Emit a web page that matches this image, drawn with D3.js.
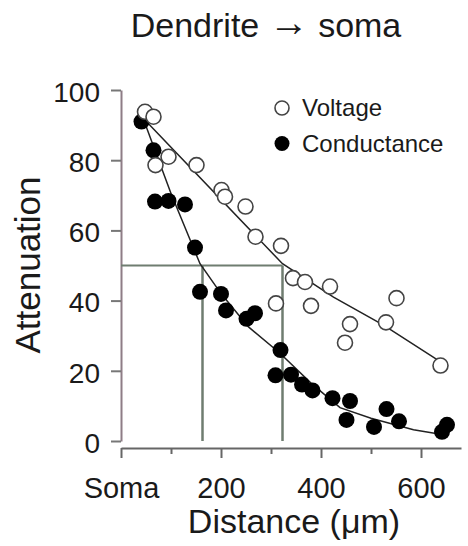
<!DOCTYPE html>
<html>
<head>
<meta charset="utf-8">
<script src="https://cdn.jsdelivr.net/npm/d3@7"></script>
<style>
  body { margin: 0; background: #fff; }
  text { font-family: "Liberation Sans", Arial, sans-serif; fill: #1a1a1a; }
</style>
</head>
<body>
<svg id="chart" width="468" height="546"></svg>
<script>
// data: distance from soma (um), attenuation (%)
var voltageDist = [48, 65, 95, 69, 151, 201, 208, 249, 269, 320, 344, 368, 310, 380, 418, 458, 448, 530, 551, 639];
var voltageAtt  = [93.8, 92.4, 81, 78.6, 78.6, 71.5, 69.6, 66.8, 58.2, 55.6, 46.4, 45.3, 39.2, 38.5, 44, 33.3, 28, 33.8, 40.7, 21.5];

var condDist = [41, 65, 68, 95, 128, 148, 158, 200, 210, 251, 268, 319, 309, 340, 362, 383, 423, 458, 451, 506, 531, 556, 642, 652];
var condAtt  = [91, 82.8, 68.2, 68.4, 67.4, 55.1, 42.5, 41.9, 37.2, 34.8, 36.4, 25.9, 18.7, 18.9, 16.1, 14.4, 12.2, 11.4, 6, 4, 9.1, 5.6, 2.6, 4.6];

// fitted curves as drawn
var voltageFitDist = [44, 323, 425, 525, 640];
var voltageFitAtt  = [92, 50.5, 41, 33, 22.5];
var condFitDist = [44, 100, 158, 200, 255, 318, 380, 438, 500, 585, 645];
var condFitAtt  = [92, 70.5, 50.5, 42, 32.5, 25, 16.5, 9.5, 6.5, 3.2, 1.8];

// 50% attenuation markers
var halfLevel = 50;
var halfDist = [163, 323];

var xMajor = [0, 200, 400, 600];
var xMinor = [100, 300, 500];
var yTicks = [0, 20, 40, 60, 80, 100];
var seriesNames = ["Voltage", "Conductance"];

var svg = d3.select("#chart");

var x = d3.scaleLinear().domain([0, 680]).range([121, 461]);
var y = d3.scaleLinear().domain([0, 100]).range([441, 90]);

function zip(a, b) {
    return a.map(function (d, i) { return [d, b[i]]; });
}

// title
var title = svg.append("text")
    .attr("x", 266)
    .attr("y", 37)
    .attr("text-anchor", "middle")
    .style("font-size", "34px");
title.append("tspan").text("Dendrite ");
title.append("tspan").style("font-size", "40px").attr("dy", "-1").text("\u2192");
title.append("tspan").attr("dy", "1").text(" soma");

// y axis
var yAxis = svg.append("g")
    .attr("transform", "translate(" + x(0) + ",0)")
    .call(d3.axisLeft(y).tickValues(yTicks).tickSize(10).tickSizeOuter(0).tickPadding(11));
yAxis.select(".domain").attr("stroke", "#8e7d86").attr("stroke-width", 2);
yAxis.selectAll(".tick line").attr("stroke", "#777").attr("stroke-width", 2);
yAxis.selectAll(".tick text")
    .attr("dy", "0.4em")
    .style("font-size", "28px")
    .style("font-family", "'Liberation Sans', Arial, sans-serif")
    .attr("fill", "#1a1a1a");

// x axis, set a little below zero
var xAxis = svg.append("g")
    .attr("transform", "translate(0,448)")
    .call(d3.axisBottom(x).tickValues(xMajor).tickSize(10).tickSizeOuter(0).tickPadding(19)
        .tickFormat(function (d) { return d === 0 ? "Soma" : d; }));
xAxis.select(".domain").attr("stroke", "#666").attr("stroke-width", 2);
xAxis.selectAll(".tick line").attr("stroke", "#666").attr("stroke-width", 2);
xAxis.selectAll(".tick text")
    .style("font-size", "29px")
    .style("font-family", "'Liberation Sans', Arial, sans-serif")
    .attr("fill", "#1a1a1a");

var xMinorAxis = svg.append("g")
    .attr("transform", "translate(0,448)")
    .call(d3.axisBottom(x).tickValues(xMinor).tickSize(6).tickSizeOuter(0).tickFormat(""));
xMinorAxis.select(".domain").remove();
xMinorAxis.selectAll(".tick line").attr("stroke", "#666").attr("stroke-width", 2);

// axis titles
svg.append("text")
    .attr("transform", "translate(40,265) rotate(-90)")
    .attr("text-anchor", "middle")
    .style("font-size", "35px")
    .text("Attenuation");

svg.append("text")
    .attr("x", 294)
    .attr("y", 533)
    .attr("text-anchor", "middle")
    .style("font-size", "34px")
    .text("Distance (\u03bcm)");

// 50% guide lines
svg.append("line")
    .attr("x1", x(0)).attr("x2", x(halfDist[1]))
    .attr("y1", y(halfLevel)).attr("y2", y(halfLevel))
    .attr("stroke", "#6f7d70").attr("stroke-width", 2);

svg.selectAll(".half")
    .data(halfDist)
    .enter().append("line")
    .attr("class", "half")
    .attr("x1", function (d) { return x(d); })
    .attr("x2", function (d) { return x(d); })
    .attr("y1", y(halfLevel))
    .attr("y2", y(0))
    .attr("stroke", "#6f7d70")
    .attr("stroke-width", 2.5);

// fitted lines
var line = d3.line()
    .x(function (d) { return x(d[0]); })
    .y(function (d) { return y(d[1]); });

svg.append("path")
    .datum(zip(condFitDist, condFitAtt))
    .attr("d", line)
    .attr("fill", "none")
    .attr("stroke", "#222")
    .attr("stroke-width", 1.5);

svg.append("path")
    .datum(zip(voltageFitDist, voltageFitAtt))
    .attr("d", line)
    .attr("fill", "none")
    .attr("stroke", "#222")
    .attr("stroke-width", 1.5);

// points
svg.append("g")
    .selectAll("circle")
    .data(zip(condDist, condAtt))
    .enter().append("circle")
    .attr("cx", function (d) { return x(d[0]); })
    .attr("cy", function (d) { return y(d[1]); })
    .attr("r", 8)
    .attr("fill", "#000");

svg.append("g")
    .selectAll("circle")
    .data(zip(voltageDist, voltageAtt))
    .enter().append("circle")
    .attr("cx", function (d) { return x(d[0]); })
    .attr("cy", function (d) { return y(d[1]); })
    .attr("r", 7.5)
    .attr("fill", "#fff")
    .attr("stroke", "#444")
    .attr("stroke-width", 1.6);

// legend
var legend = svg.append("g")
    .selectAll("g")
    .data(seriesNames)
    .enter().append("g")
    .attr("transform", function (d, i) { return "translate(282," + (108 + i * 35.5) + ")"; });

legend.append("circle")
    .attr("r", function (d, i) { return i === 0 ? 7 : 7.5; })
    .attr("fill", function (d, i) { return i === 0 ? "#fff" : "#000"; })
    .attr("stroke", function (d, i) { return i === 0 ? "#444" : "none"; })
    .attr("stroke-width", 1.6);

legend.append("text")
    .attr("x", 20)
    .attr("y", 8)
    .style("font-size", "24px")
    .text(function (d) { return d; });
</script>
</body>
</html>
